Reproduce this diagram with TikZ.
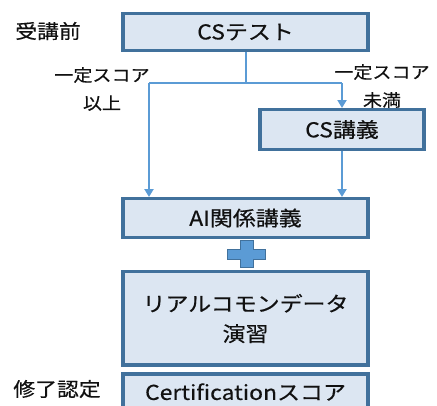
\documentclass[tikz,border=0pt]{standalone}
\usepackage{fontspec}
\setmainfont{Noto Sans CJK JP}[FakeStretch=1.12,FakeBold=0.4]
\newfontfamily\jp{Noto Sans CJK JP}[FakeStretch=1.12,FakeBold=0.4]
\usetikzlibrary{arrows.meta}
\definecolor{boxfill}{HTML}{DCE6F2}
\definecolor{boxline}{HTML}{41719C}
\definecolor{arrowc}{HTML}{5B9BD5}
\definecolor{txt}{HTML}{111111}
\tikzset{
  box/.style={draw=boxline, line width=3.2bp, fill=boxfill, inner sep=0pt, text=txt},
  boxtext/.style={font=\jp\fontsize{20.5bp}{30bp}\selectfont, text=txt, align=center},
  lab/.style={font=\jp\fontsize{17bp}{28bp}\selectfont, text=txt, inner sep=0pt, align=center},
  biglab/.style={font=\jp\fontsize{19.5bp}{22bp}\selectfont, text=txt, inner sep=0pt},
  conn/.style={draw=arrowc, line width=2bp},
  arr/.style={conn, -{Triangle[length=8bp,width=9bp]}},
}
\begin{document}
\begin{tikzpicture}[x=1bp,y=-1bp]
\useasboundingbox (0,0) rectangle (437,405);
\clip (0,0) rectangle (437,405);
% boxes
\draw[box] (123,13.5) rectangle (368,50.5);
\node[boxtext] (cs) at (245.5,32) {CSテスト};
\draw[box] (260,109.5) rectangle (424,149.5);
\node[boxtext] (csl) at (342,129.5) {CS講義};
\draw[box] (123,198.5) rectangle (368,237.5);
\node[boxtext] (ai) at (245.5,218) {AI関係講義};
\draw[box] (123,271.5) rectangle (368,365);
\node[boxtext] (real) at (245.5,318.5) {リアルコモンデータ\\演習};
\draw[box] (123,374) rectangle (368,430);
\node[boxtext] (cert) at (245.5,392) {Certificationスコア};
% labels
\node[biglab] (pre) at (48,31) {受講前};
\node[biglab] (fin) at (57,389) {修了認定};
\node[lab] (ok) at (102,89) {一定スコア\\以上};
\node[lab] (ng) at (382,86) {一定スコア\\未満};
% connectors
\coordinate (top) at (245.5,52);
\coordinate (j) at (245.5,83);
\coordinate (jl) at (149,83);
\coordinate (jr) at (342,83);
\coordinate (aitopl) at (149,197);
\coordinate (aitopr) at (342,197);
\coordinate (csltop) at (342,108);
\coordinate (cslbot) at (342,151);
\draw[conn] (top) -- (j);
\draw[conn] (jl) -- (jr);
\draw[arr] (jl) -- (aitopl);
\draw[arr] (jr) -- (csltop);
\draw[arr] (cslbot) -- (aitopr);
% plus sign
\draw[draw=boxline, line width=0.8bp, fill=arrowc]
  (240,240) -- (253,240) -- (253,249.5) -- (265,249.5) -- (265,259) -- (253,259)
  -- (253,267) -- (240,267) -- (240,259) -- (227,259) -- (227,249.5) -- (240,249.5) -- cycle;
\end{tikzpicture}
\end{document}
